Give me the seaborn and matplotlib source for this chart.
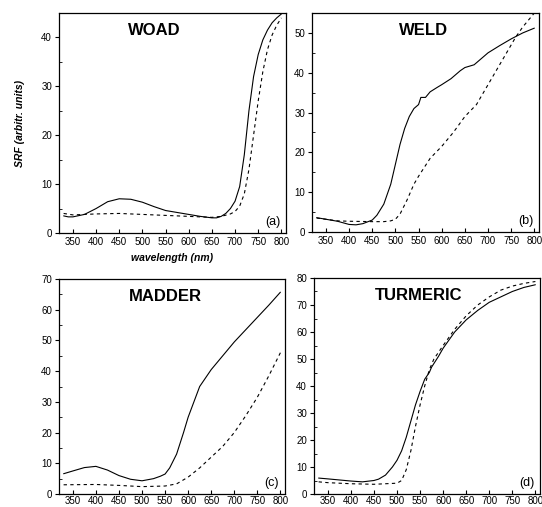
import numpy as np
import pandas as pd
import seaborn as sns
import matplotlib.pyplot as plt
from matplotlib.ticker import MultipleLocator

# data (wavelength in nm, SRF in arbitrary units)
woad_wl = [330, 340, 350, 375, 400, 425, 450, 475, 500, 525, 550, 575, 600, 625,
           650, 660, 670, 680, 690, 700, 710, 720, 730, 740, 750, 760, 770, 780, 790, 800]
woad_solid = [3.5, 3.3, 3.3, 3.8, 5.0, 6.4, 7.0, 6.9, 6.3, 5.4, 4.6, 4.2, 3.8, 3.4,
              3.1, 3.1, 3.4, 4.0, 5.0, 6.5, 9.5, 16, 25, 32, 36.5, 39.5, 41.5, 43, 44, 44.8]
woad_dash_wl = [330, 350, 375, 400, 450, 500, 550, 600, 650, 670, 690, 700, 710,
                720, 730, 740, 750, 760, 770, 780, 790, 800]
woad_dash = [4.0, 3.7, 3.8, 3.9, 4.0, 3.8, 3.6, 3.4, 3.2, 3.4, 3.9, 4.4, 5.5,
             8, 13, 20, 27, 33, 37.5, 40.5, 42.5, 44]

weld_wl = [330, 350, 375, 400, 415, 430, 450, 460, 475, 490, 500, 510, 520, 530, 540,
           550, 555, 565, 570, 575, 590, 600, 620, 640, 650, 670, 680, 700, 725, 750, 775, 800]
weld_solid = [3.6, 3.2, 2.7, 1.9, 1.8, 2.1, 3.0, 4.2, 7, 12, 17, 22, 26, 29, 31,
              32, 33.8, 33.8, 34.5, 35.2, 36.3, 37, 38.5, 40.5, 41.3, 42, 43, 45, 46.8, 48.5, 50, 51.2]
weld_dash_wl = [330, 350, 375, 400, 450, 475, 490, 500, 510, 525, 540, 550, 575,
                600, 625, 650, 675, 700, 725, 750, 760, 775, 800]
weld_dash = [3.5, 3.2, 2.8, 2.7, 2.6, 2.6, 2.8, 3.2, 4.5, 8, 12, 14, 18.5,
             21.5, 25, 29, 32, 37, 42, 47, 49, 51.5, 55]

madder_wl = [330, 350, 375, 400, 425, 450, 475, 500, 525, 540, 550, 560, 575, 590,
             600, 615, 625, 650, 675, 700, 725, 750, 775, 800]
madder_solid = [6.6, 7.5, 8.6, 9.0, 7.8, 6.0, 4.8, 4.3, 5.0, 5.8, 6.5, 8.5, 13, 20,
                25, 31, 35, 40.5, 45, 49.5, 53.5, 57.5, 61.5, 65.7]
madder_dash_wl = [330, 400, 450, 500, 550, 575, 600, 625, 650, 675, 700, 725, 750, 775, 800]
madder_dash = [3.0, 3.1, 2.8, 2.4, 2.6, 3.3, 5.5, 8.5, 12, 15.5, 20, 25.5, 31.5, 38.5, 46]

turmeric_wl = [330, 350, 400, 425, 450, 460, 475, 490, 500, 510, 520, 530, 540, 550,
               560, 570, 575, 590, 600, 625, 650, 675, 700, 725, 750, 775, 800]
turmeric_solid = [5.9, 5.6, 4.8, 4.5, 5.0, 5.5, 7, 10, 12.5, 16, 21, 27, 33, 38,
                  42.5, 45, 47, 51, 54, 60, 64.5, 68, 71, 73, 75, 76.5, 77.5]
turmeric_dash_wl = [330, 350, 400, 450, 500, 510, 520, 530, 540, 550, 560, 570, 580,
                    600, 625, 650, 675, 700, 725, 750, 775, 800]
turmeric_dash = [4.5, 4.2, 3.8, 3.6, 4.0, 5, 9, 16, 25, 33, 40, 46, 50,
                 55, 61, 66, 70, 73, 75.5, 77, 78, 78.7]

panels = [
    ('WOAD', '(a)', woad_wl, woad_solid, woad_dash_wl, woad_dash, 45, 10, 0.42),
    ('WELD', '(b)', weld_wl, weld_solid, weld_dash_wl, weld_dash, 55, 10, 0.49),
    ('MADDER', '(c)', madder_wl, madder_solid, madder_dash_wl, madder_dash, 70, 10, 0.47),
    ('TURMERIC', '(d)', turmeric_wl, turmeric_solid, turmeric_dash_wl, turmeric_dash, 80, 10, 0.465),
]

sns.set_style('ticks')
plt.rcParams['font.family'] = ['Liberation Sans', 'DejaVu Sans']
plt.rcParams['text.color'] = 'black'
plt.rcParams['xtick.color'] = 'black'
plt.rcParams['ytick.color'] = 'black'
plt.rcParams['axes.labelcolor'] = 'black'
plt.rcParams['axes.edgecolor'] = 'black'

fig = plt.figure(figsize=(5.42, 5.07), dpi=100)
rects = [
    [59/542, 274/507, 227/542, 220/507],
    [312/542, 275/507, 227/542, 219/507],
    [59/542, 13/507, 226/542, 215/507],
    [314/542, 13/507, 226/542, 216/507],
]

for i, (rect, (name, tag, wl, solid, dwl, dash, ymax, ystep, tx)) in enumerate(zip(rects, panels)):
    ax = fig.add_axes(rect)
    sns.lineplot(x=wl, y=solid, ax=ax, color='black', lw=0.8)
    sns.lineplot(x=dwl, y=dash, ax=ax, color='black', lw=0.8,
                 linestyle=(0, (3, 3)))
    ax.set_xlim(320, 810)
    ax.set_ylim(0, ymax)
    ax.set_xticks(range(350, 801, 50))
    ax.yaxis.set_major_locator(MultipleLocator(ystep))
    ax.yaxis.set_minor_locator(MultipleLocator(ystep / 2))
    ax.tick_params(axis='x', direction='in', length=3, width=0.8,
                   labelsize=7, pad=3 if i < 2 else 1.5)
    ax.tick_params(axis='y', which='major', direction='out', length=3,
                   width=0.8, labelsize=7, pad=2)
    ax.tick_params(axis='y', which='minor', direction='in', length=2, width=0.6)
    for sp in ax.spines.values():
        sp.set_visible(True)
        sp.set_linewidth(0.9)
    ax.text(tx, 0.92, name, transform=ax.transAxes, ha='center', va='center',
            fontsize=12, fontweight='heavy')
    ax.text(0.94, 0.05, tag, transform=ax.transAxes, ha='center', va='center',
            fontsize=9)
    if name == 'WOAD':
        ax.set_xlabel('wavelength (nm)', fontsize=7.5, fontweight='bold',
                      fontstyle='italic', labelpad=4)
        ax.set_ylabel('SRF (arbitr. units)', fontsize=7.5, fontweight='bold',
                      fontstyle='italic', labelpad=12)

fig.savefig('out.png', dpi=100)
